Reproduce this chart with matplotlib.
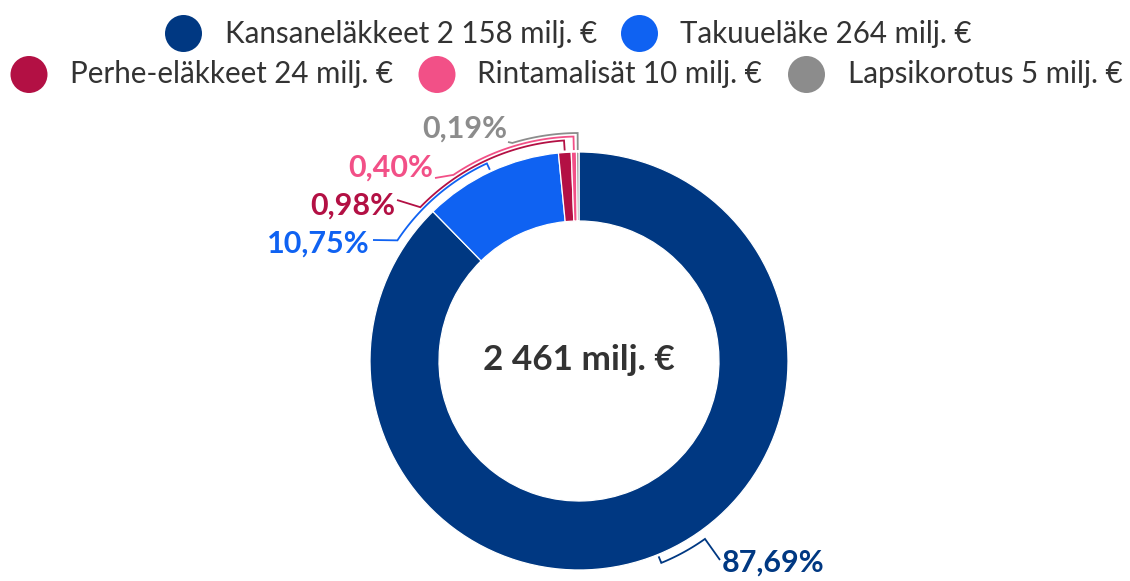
import matplotlib
matplotlib.use("Agg")
import matplotlib.pyplot as plt
import numpy as np

# ---- data ----
categories = ["Kansaneläkkeet", "Takuueläke", "Perhe-eläkkeet", "Rintamalisät", "Lapsikorotus"]
values_milj = [2158, 264, 24, 10, 5]
percents = [87.69, 10.75, 0.98, 0.40, 0.19]
pct_labels = ["87,69%", "10,75%", "0,98%", "0,40%", "0,19%"]
colors = ["#003882", "#0f62f2", "#b31044", "#f25087", "#8c8c8c"]
total_label = "2 461 milj. €"

W, H = 1130, 581
fig = plt.figure(figsize=(W / 100, H / 100), dpi=100)
ax = fig.add_axes([0, 0, 1, 1])

def Y(y):
    return H - y

cx, cy = 579, 361
R_out, R_in = 209, 140

ax.pie(percents, colors=colors, startangle=90, counterclock=False,
       radius=R_out, center=(cx, Y(cy)),
       wedgeprops=dict(width=R_out - R_in, edgecolor="white", linewidth=0.9))
ax.set_xlim(0, W)
ax.set_ylim(0, H)
ax.set_aspect("auto")
ax.axis("off")

renderer = fig.canvas.get_renderer()

def fit_text(x, y, s, target_w, ha, color, weight, family="Lato"):
    t = ax.text(x, Y(y), s, ha=ha, va="center", color=color, fontsize=20,
                fontweight=weight, family=family)
    w = t.get_window_extent(renderer).width
    t.set_fontsize(20 * target_w / w)
    return t.get_fontsize()

# center label
fit_text(cx, 360, total_label, 192, "center", "#333333", "bold")

# legend
leg_pos = [(183.5, 33.5, 225), (639.5, 33.5, 680), (29, 74.5, 70), (437, 74.5, 477), (806.5, 74.5, 848)]
fs_leg = None
for i, (mx, my, tx) in enumerate(leg_pos):
    ax.add_patch(plt.Circle((mx, Y(my)), 18.5, color=colors[i], lw=0))
    s = f"{categories[i]} {values_milj[i]:,} milj. €".replace(",", " ")
    if fs_leg is None:
        fs_leg = fit_text(tx, my, s, 373, "left", "#333333", "normal")
    else:
        ax.text(tx, Y(my), s, ha="left", va="center", color="#333333",
                fontsize=fs_leg, family="Lato")

# connectors + percentage labels
# (arc radius, arc end angle, final point px, text anchor px, ha)
conn = [
    (218, -54.7, (720, 560), (722, 563), "left"),
    (218, 146.4, (373, 240), (370, 244), "right"),
    (221, 135.9, (397, 200), (395, 206), "right"),
    (224.5, 124.0, (435, 178), (433, 168), "right"),
    (228, 107.0, (508, 142), (507, 129), "right"),
]
cum = np.cumsum([0] + percents[:-1])
tot = sum(percents)
fs_pct = None
lw = 1.3
for i, (r, a_end, fin, tpos, ha) in enumerate(conn):
    mid = 90 - 360 * (cum[i] + percents[i] / 2) / tot
    mid = (mid + 180) % 360 - 180
    th0 = np.radians(mid)
    th1 = np.radians(a_end)
    ths = np.linspace(th0, th1, 80)
    xs = [cx + 211 * np.cos(th0)] + list(cx + r * np.cos(ths)) + [fin[0]]
    ys = [Y(cy) + 211 * np.sin(th0)] + list(Y(cy) + r * np.sin(ths)) + [Y(fin[1])]
    ax.plot(xs, ys, color=colors[i], lw=lw, solid_capstyle="butt", solid_joinstyle="miter")
    if fs_pct is None:
        fs_pct = fit_text(tpos[0], tpos[1], pct_labels[i], 103, ha, colors[i], "bold")
    else:
        ax.text(tpos[0], Y(tpos[1]), pct_labels[i], ha=ha, va="center", color=colors[i],
                fontsize=fs_pct, fontweight="bold", family="Lato")

fig.savefig("out.png", dpi=100, facecolor="white")
